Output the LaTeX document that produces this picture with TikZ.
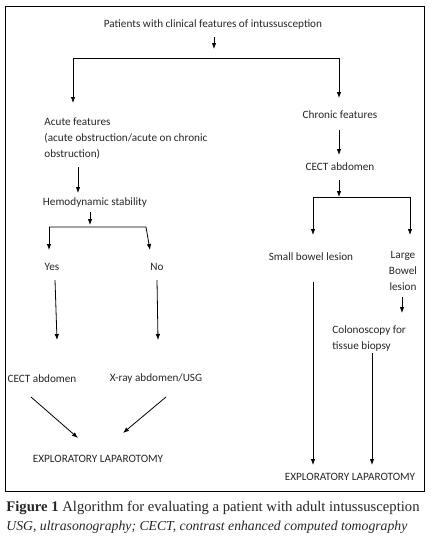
\documentclass[tikz,border=0pt]{standalone}
\usepackage{fontspec}
\setmainfont{Carlito}
\newfontfamily\capfont{Liberation Serif}
\usetikzlibrary{arrows.meta}

\tikzset{
  txt/.style={font=\fontsize{8.4}{12}\selectfont, text=black!85, inner sep=0pt},
  arr/.style={-{Latex[length=4.5pt,width=3.4pt]}},
  captxt/.style={font=\capfont\fontsize{11}{12}\selectfont, text=black!85, inner sep=0pt, anchor=west},
}

\begin{document}
\begin{tikzpicture}[x=0.75pt, y=-0.75pt, line width=0.6pt]
        \useasboundingbox (0,0) rectangle (432,551);

        % Frame around the algorithm
        \draw (5,6) rectangle (424,491);

        % Nodes of the algorithm
        \node[txt] (top) at (213,25) {Patients with clinical features of intussusception};
        \node[txt, anchor=west, align=left] (acute) at (44,138) {Acute features\\(acute obstruction/acute on chronic\\obstruction)};
        \node[txt] (chronic) at (340,115) {Chronic features};
        \node[txt] (cectR) at (340,167) {CECT abdomen};
        \node[txt] (hemo) at (95,203) {Hemodynamic stability};
        \node[txt] (yes) at (52,267) {Yes};
        \node[txt] (no) at (157,267) {No};
        \node[txt] (cectL) at (42,379) {CECT abdomen};
        \node[txt] (xray) at (156,379) {X-ray abdomen/USG};
        \node[txt] (explL) at (98,459) {EXPLORATORY LAPAROTOMY};
        \node[txt] (small) at (311,257) {Small bowel lesion};
        \node[txt, align=center] (large) at (403,271) {Large\\Bowel\\lesion};
        \node[txt, anchor=west, align=left] (colon) at (332,339) {Colonoscopy for\\tissue biopsy};
        \node[txt] (explR) at (350,477) {EXPLORATORY LAPAROTOMY};

        % Ends of the connectors
        \coordinate (topOut) at (214,37);
        \coordinate (topIn) at (214,49);
        \coordinate (forkL) at (73,58);
        \coordinate (forkR) at (339,58);
        \coordinate (acuteIn) at (73,103);
        \coordinate (chronicIn) at (339,98);
        \coordinate (acuteOut) at (78,167);
        \coordinate (hemoIn) at (78,193);
        \coordinate (hemoOut) at (90,212);
        \coordinate (hemoArr) at (90,225);
        \coordinate (splitL) at (49,227);
        \coordinate (splitR) at (146,227);
        \coordinate (yesIn) at (49,250);
        \coordinate (noIn) at (150,250);
        \coordinate (yesOut) at (55,280);
        \coordinate (cectLIn) at (57,340);
        \coordinate (noOut) at (157,280);
        \coordinate (xrayIn) at (158,340);
        \coordinate (cectLOut) at (31,397);
        \coordinate (explLa) at (78,438);
        \coordinate (xrayOut) at (166,397);
        \coordinate (explLb) at (123,433);
        \coordinate (chronicOut) at (339,130);
        \coordinate (cectRIn) at (339,155);
        \coordinate (cectROut) at (339,180);
        \coordinate (barMid) at (339,197);
        \coordinate (barL) at (313,197);
        \coordinate (barR) at (410,197);
        \coordinate (smallIn) at (313,235);
        \coordinate (largeIn) at (410,235);
        \coordinate (smallOut) at (313,282);
        \coordinate (explRa) at (313,465);
        \coordinate (largeOut) at (402,297);
        \coordinate (colonIn) at (402,313);
        \coordinate (colonOut) at (372,353);
        \coordinate (explRb) at (372,465);

        % Top part
        \draw[arr] (topOut) -- (topIn);
        \draw[arr] (forkL) -- (forkR) -- (chronicIn);
        \draw[arr] (forkL) -- (acuteIn);

        % Acute branch
        \draw[arr] (acuteOut) -- (hemoIn);
        \draw[arr] (hemoOut) -- (hemoArr);
        \draw[arr] (splitL) -- (splitR) -- (noIn);
        \draw[arr] (splitL) -- (yesIn);
        \draw[arr] (yesOut) -- (cectLIn);
        \draw[arr] (noOut) -- (xrayIn);
        \draw[arr] (cectLOut) -- (explLa);
        \draw[arr] (xrayOut) -- (explLb);

        % Chronic branch
        \draw[arr] (chronicOut) -- (cectRIn);
        \draw[arr] (cectROut) -- (barMid);
        \draw[arr] (barL) -- (barR) -- (largeIn);
        \draw[arr] (barL) -- (smallIn);
        \draw[arr] (smallOut) -- (explRa);
        \draw[arr] (largeOut) -- (colonIn);
        \draw[arr] (colonOut) -- (explRb);

        % Caption
        \node[captxt] (cap1) at (6,508) {\textbf{Figure 1} Algorithm for evaluating a patient with adult intussusception};
        \node[captxt, font=\capfont\itshape\fontsize{10.3}{12}\selectfont] (cap2) at (6,527) {USG, ultrasonography; CECT, contrast enhanced computed tomography};
    \end{tikzpicture}
\end{document}
